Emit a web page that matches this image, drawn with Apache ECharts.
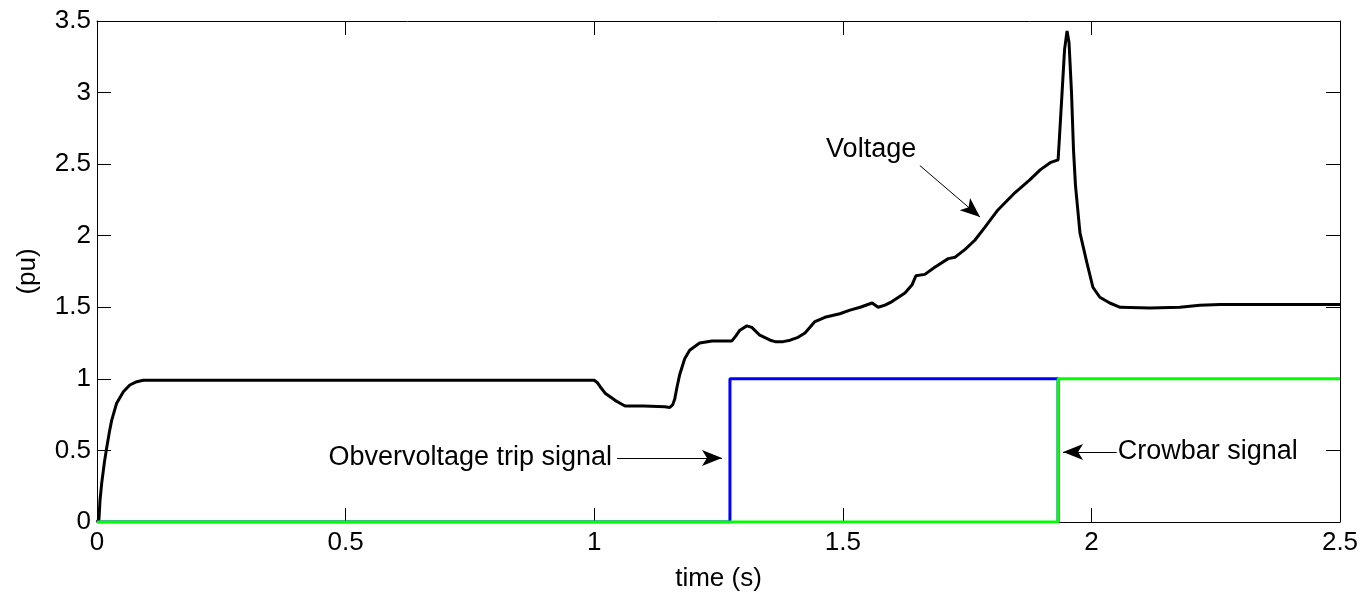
<!DOCTYPE html>
<html><head><meta charset="utf-8">
<script src="https://cdn.jsdelivr.net/npm/echarts@6/dist/echarts.min.js"></script>
<style>html,body{margin:0;padding:0;background:#fff}#c{width:1371px;height:597px}</style>
</head><body><div id="c"></div>
<script>
// Voltage (pu) versus time (s)
const voltT = [0,0.004,0.006,0.0094,0.015,0.02,0.025,0.0295,0.0395,0.053,0.066,0.08,0.093,0.1,1.0,1.006,1.012,1.022,1.032,1.042,1.052,1.062,1.10,1.142,1.152,1.158,1.162,1.167,1.172,1.182,1.192,1.212,1.237,1.277,1.285,1.293,1.307,1.317,1.333,1.354,1.364,1.38,1.394,1.41,1.424,1.434,1.444,1.464,1.494,1.5145,1.535,1.559,1.571,1.585,1.599,1.625,1.639,1.647,1.665,1.685,1.712,1.726,1.746,1.766,1.786,1.812,1.846,1.876,1.897,1.917,1.933,1.936,1.941,1.946,1.951,1.955,1.96,1.964,1.968,1.977,1.991,2.003,2.017,2.037,2.058,2.118,2.178,2.218,2.259,2.5];
const voltV = [0,0.02,0.15,0.27,0.42,0.53,0.63,0.71,0.83,0.91,0.957,0.98,0.99,0.99,0.99,0.975,0.945,0.90,0.875,0.85,0.83,0.81,0.81,0.805,0.80,0.82,0.86,0.95,1.03,1.14,1.20,1.25,1.265,1.265,1.30,1.34,1.37,1.36,1.305,1.27,1.26,1.26,1.27,1.29,1.32,1.36,1.40,1.43,1.455,1.48,1.50,1.53,1.50,1.515,1.54,1.60,1.655,1.72,1.73,1.78,1.84,1.85,1.905,1.97,2.06,2.18,2.30,2.39,2.46,2.51,2.53,2.7,3.0,3.3,3.43,3.35,3.0,2.6,2.35,2.02,1.81,1.64,1.57,1.53,1.50,1.495,1.50,1.515,1.52,1.52];
// Overvoltage trip signal
const tripT = [0,1.273,1.273,1.933,1.933];
const tripV = [0,0,1,1,0];
// Crowbar signal
const crowT = [0,1.933,1.933,2.5];
const crowV = [0,0,1,1];
// Axis ranges / ticks
const xMin = 0, xMax = 2.5, xStep = 0.5;
const yMin = 0, yMax = 3.5, yStep = 0.5;
// Annotations (data coordinates)
const annVoltage = {text:'Voltage', at:[1.557, 2.60], from:[1.655, 2.49], to:[1.776, 2.13]};
const annTrip = {text:'Obvervoltage trip signal', at:[1.036, 0.447], from:[1.046, 0.447], to:[1.257, 0.447]};
const annCrow = {text:'Crowbar signal', at:[2.053, 0.489], from:[2.051, 0.489], to:[1.943, 0.489]};

const zip = (a,b)=>a.map((v,i)=>[v,b[i]]);
const FONT = 'Liberation Sans';
const chart = echarts.init(document.getElementById('c'), null, {renderer:'canvas'});
const axisCommon = {
  type:'value', splitLine:{show:false},
  axisLine:{show:true, onZero:false, lineStyle:{color:'#000', width:1}},
  axisTick:{show:true, inside:true, length:14, lineStyle:{color:'#000', width:1}}
};
function arrowLine(a){
  return [{coord:a.from, symbol:'none'},{coord:a.to, symbol:'arrow', symbolSize:[12,20]}];
}
chart.setOption({
  animation:false,
  backgroundColor:'#fff',
  grid:{left:97, top:21, right:31, bottom:75, containLabel:false},
  xAxis:[
    Object.assign({}, axisCommon, {min:xMin, max:xMax, interval:xStep, position:'bottom',
      axisLabel:{color:'#000', fontSize:26, fontFamily:FONT, margin:8},
      name:'time (s)', nameLocation:'middle', nameGap:44,
      nameTextStyle:{color:'#000', fontSize:26, fontFamily:FONT}}),
    Object.assign({}, axisCommon, {min:xMin, max:xMax, interval:xStep, position:'top', axisLabel:{show:false}})
  ],
  yAxis:[
    Object.assign({}, axisCommon, {min:yMin, max:yMax, interval:yStep, position:'left',
      axisLabel:{color:'#000', fontSize:26, fontFamily:FONT, margin:6},
      name:'(pu)', nameLocation:'middle', nameGap:56,
      nameTextStyle:{color:'#000', fontSize:26, fontFamily:FONT}}),
    Object.assign({}, axisCommon, {min:yMin, max:yMax, interval:yStep, position:'right', axisLabel:{show:false}})
  ],
  series:[
    {name:'Voltage', type:'line', data:zip(voltT, voltV), showSymbol:false, smooth:false,
     lineStyle:{color:'#000', width:3}, z:3,
     markLine:{silent:true, animation:false, symbol:['none','arrow'], label:{show:false},
       lineStyle:{color:'#000', width:1, type:'solid'},
       data:[arrowLine(annVoltage), arrowLine(annTrip), arrowLine(annCrow)]}},
    {name:'Trip', type:'line', data:zip(tripT, tripV), showSymbol:false, lineStyle:{color:'#0000ff', width:3}, z:4},
    {name:'Crowbar', type:'line', data:zip(crowT, crowV), showSymbol:false, lineStyle:{color:'#00ff00', width:3}, z:5}
  ]
});
function txt(a, align){
  const p = chart.convertToPixel({gridIndex:0}, a.at);
  return {type:'text', x:p[0], y:p[1], z:10,
    style:{text:a.text, fill:'#000', font:'27px "'+FONT+'"', textAlign:align, textVerticalAlign:'middle'}};
}
chart.setOption({graphic:[txt(annVoltage,'center'), txt(annTrip,'right'), txt(annCrow,'left')]});
</script></body></html>
